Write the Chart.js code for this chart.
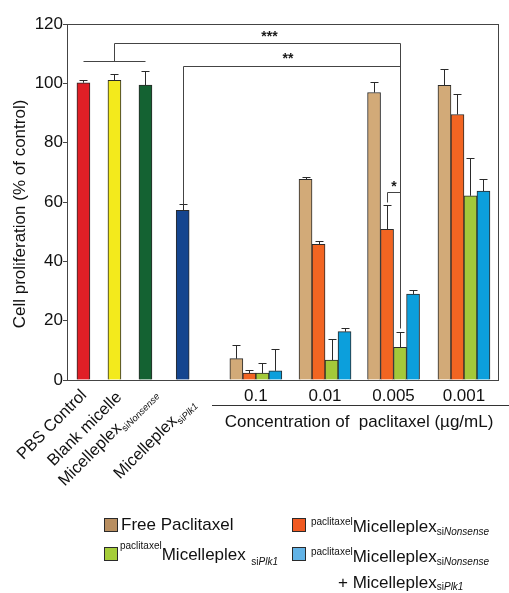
<!DOCTYPE html>
<html>
<head>
<meta charset="utf-8">
<script src="https://cdn.jsdelivr.net/npm/chart.js@4/dist/chart.umd.min.js"></script>
<style>
  html, body { margin: 0; padding: 0; background: #fff; }
  #wrap { width: 509px; height: 593px; }
</style>
</head>
<body>
<div id="wrap"><canvas id="chart" width="509" height="593"></canvas></div>
<script>
// values (% of control)
const singleLabels = ["PBS Control", "Blank micelle", "Micelleplex", "Micelleplex"];
const singleSubs = ["", "", "Nonsense", "Plk1"];
const singleValues = [100.2, 101.0, 99.4, 57.2];
const singleErrors = [0.8, 2.0, 4.8, 2.1];

const concLabels = ["0.1", "0.01", "0.005", "0.001"];
const freePtxValues = [7.2, 67.6, 96.9, 99.3];
const freePtxErrors = [4.6, 0.9, 3.7, 5.4];
const ptxNonsenseValues = [2.3, 45.7, 50.8, 89.5];
const ptxNonsenseErrors = [1.1, 1.2, 8.1, 6.9];
const ptxPlk1Values = [2.3, 6.7, 11.0, 62.1];
const ptxPlk1Errors = [3.4, 7.2, 5.2, 12.9];
const comboValues = [3.1, 16.3, 29.0, 63.7];
const comboErrors = [7.3, 1.3, 1.3, 4.2];

// significance bracket heights
const sigLevels = { controls: 107.4, triple: 113.7, double: 106.0, single: 63.3, singleFoot: 60.0 };

// slot positions on the hidden x axis
const singleSlots = [1, 2, 3, 4.2];
const concSlots = [6.56, 8.79, 11.0, 13.27];

const FONT = "'Liberation Sans', Arial, Helvetica, sans-serif";
const INK = "#2a2a2a";

function makeBar(label, values, errors, color, slots) {
  return {
    label,
    data: values.map((v, i) => ({ x: slots[i], y: v })),
    errors,
    backgroundColor: color,
    borderColor: INK,
    borderWidth: 1,
    barThickness: 13,
    skipNull: true,
  };
}

// draws text runs (normal / sup / sub) one after the other
function drawRuns(ctx, x, y, runs) {
  let cx = x;
  runs.forEach(r => {
    ctx.font = `${r.italic ? "italic " : ""}${r.size}px ${FONT}`;
    ctx.fillText(r.t, cx, y + (r.dy || 0));
    cx += ctx.measureText(r.t).width;
  });
  return cx;
}
function runsWidth(ctx, runs) {
  return runs.reduce((w, r) => {
    ctx.font = `${r.italic ? "italic " : ""}${r.size}px ${FONT}`;
    return w + ctx.measureText(r.t).width;
  }, 0);
}

const overlay = {
  id: "overlay",
  afterDatasetsDraw(chart) {
    const { ctx, chartArea: a, scales } = chart;
    const y = scales.y;
    const py = v => Math.round(y.getPixelForValue(v)) + 0.5;
    const line = pts => {
      ctx.beginPath();
      pts.forEach((p, i) => (i ? ctx.lineTo(p[0], p[1]) : ctx.moveTo(p[0], p[1])));
      ctx.stroke();
    };
    ctx.save();
    ctx.strokeStyle = INK;
    ctx.lineWidth = 1;

    // error bars (upper only)
    chart.data.datasets.forEach((ds, di) => {
      chart.getDatasetMeta(di).data.forEach((el, i) => {
        const top = py(ds.data[i].y + ds.errors[i]);
        const x = Math.round(el.x) + 0.5;
        line([[x, el.y], [x, top]]);
        line([[x - 4, top], [x + 4, top]]);
      });
    });

    // frame
    ctx.strokeStyle = "#444";
    ctx.strokeRect(Math.round(a.left) + 0.5, Math.round(a.top) + 0.5, Math.round(a.width) - 1, Math.round(a.height));

    // significance brackets
    const S = chart.getDatasetMeta(0).data;
    const O = chart.getDatasetMeta(2).data;
    const G = chart.getDatasetMeta(3).data;
    const gx = Math.round(G[2].x) + 0.5;
    const sx = i => Math.round(S[i].x) + 0.5;
    line([[sx(0), py(sigLevels.controls)], [sx(2), py(sigLevels.controls)]]);
    line([[sx(1), py(sigLevels.controls)], [sx(1), py(sigLevels.triple)], [gx, py(sigLevels.triple)],
          [gx, py(ptxPlk1Values[2] + ptxPlk1Errors[2] + 1.3)]]);
    line([[sx(3), py(singleValues[3] + singleErrors[3])], [sx(3), py(sigLevels.double)], [gx, py(sigLevels.double)]]);
    const ox = Math.round(O[2].x) + 0.5;
    line([[ox, py(sigLevels.singleFoot)], [ox, py(sigLevels.single)], [gx, py(sigLevels.single)]]);

    ctx.fillStyle = "#1a1a1a";
    ctx.textAlign = "center";
    ctx.textBaseline = "middle";
    ctx.font = `bold 14px ${FONT}`;
    ctx.fillText("***", (sx(1) + gx) / 2 + 12, py(sigLevels.triple) - 6);
    ctx.fillText("**", (sx(3) + gx) / 2 - 4, py(sigLevels.double) - 7);
    ctx.fillText("*", (ox + gx) / 2, py(sigLevels.single) - 5);
    ctx.restore();
  },
  afterDraw(chart) {
    const { ctx, scales } = chart;
    ctx.save();
    ctx.fillStyle = "#111";
    ctx.textBaseline = "alphabetic";

    // y title
    ctx.save();
    ctx.translate(25, 214);
    ctx.rotate(-Math.PI / 2);
    ctx.textAlign = "center";
    ctx.font = `17px ${FONT}`;
    ctx.fillText("Cell proliferation (% of control)", 0, 0);
    ctx.restore();

    // concentration labels
    ctx.textAlign = "center";
    ctx.font = `17px ${FONT}`;
    concLabels.forEach((t, i) => ctx.fillText(t, scales.x.getPixelForValue(concSlots[i]), 401));
    ctx.strokeStyle = "#333";
    ctx.lineWidth = 1;
    ctx.beginPath();
    ctx.moveTo(212, 405.5);
    ctx.lineTo(509, 405.5);
    ctx.stroke();
    ctx.fillText("Concentration of  paclitaxel (\u00b5g/mL)", 359, 427);

    // rotated control labels
    ctx.textAlign = "left";
    const shift = [[4, 396], [8, 398], [12, 394], [13, 404]];
    singleLabels.forEach((t, i) => {
      const runs = [{ t, size: 16.5 }];
      if (singleSubs[i]) {
        runs.push({ t: "si", size: 9.5, dy: 4 }, { t: singleSubs[i], size: 9.5, dy: 4, italic: true });
      }
      const w = runsWidth(ctx, runs);
      ctx.save();
      ctx.translate(scales.x.getPixelForValue(singleSlots[i]) + shift[i][0], shift[i][1]);
      ctx.rotate(-Math.PI / 4);
      drawRuns(ctx, -w, 0, runs);
      ctx.restore();
    });

    // legend
    const swatch = (x, yy, c) => {
      ctx.fillStyle = c;
      ctx.fillRect(x, yy, 14, 14);
      ctx.strokeStyle = INK;
      ctx.strokeRect(x + 0.5, yy + 0.5, 13, 13);
      ctx.fillStyle = "#111";
    };
    const ptx = dy => ({ t: "paclitaxel", size: 10, dy });
    const mic = { t: "Micelleplex", size: 17 };
    const si = (s, dy) => [{ t: "si", size: 10, dy }, { t: s, size: 10, dy, italic: true }];
    swatch(104, 518, "#b88e60");
    drawRuns(ctx, 121, 530, [{ t: "Free Paclitaxel", size: 17 }]);
    swatch(292, 518, "#f05a22");
    drawRuns(ctx, 311, 532, [ptx(-7), mic, ...si("Nonsense", 3)]);
    swatch(104, 547, "#a5cd39");
    drawRuns(ctx, 120, 560, [ptx(-11), mic, { t: "  ", size: 10 }, ...si("Plk1", 5)]);
    swatch(292, 547, "#62b3e6");
    drawRuns(ctx, 311, 562, [ptx(-7), mic, ...si("Nonsense", 3)]);
    drawRuns(ctx, 338, 588, [{ t: "+ ", size: 17 }, mic, ...si("Plk1", 2)]);
    ctx.restore();
  },
};

new Chart(document.getElementById("chart"), {
  type: "bar",
  data: {
    datasets: [
      makeBar("Controls", singleValues, singleErrors, ["#e01f26", "#f3ea1c", "#146232", "#15458f"], singleSlots),
      makeBar("Free Paclitaxel", freePtxValues, freePtxErrors, "#d2aa78", concSlots),
      makeBar("paclitaxel Micelleplex siNonsense", ptxNonsenseValues, ptxNonsenseErrors, "#f26522", concSlots),
      makeBar("paclitaxel Micelleplex siPlk1", ptxPlk1Values, ptxPlk1Errors, "#a3c93a", concSlots),
      makeBar("paclitaxel Micelleplex siNonsense + Micelleplex siPlk1", comboValues, comboErrors, "#0c9fdc", concSlots),
    ],
  },
  options: {
    responsive: false,
    animation: false,
    layout: { padding: { left: 0, top: 24, right: 10, bottom: 213 } },
    plugins: { legend: { display: false }, tooltip: { enabled: false } },
    scales: {
      x: { type: "linear", display: false, offset: false, min: 0.47, max: 14.4 },
      y: {
        min: 0,
        max: 120,
        ticks: { stepSize: 20, padding: 0, color: "#111", font: { family: FONT, size: 17 } },
        grid: { drawOnChartArea: false, tickLength: 4, color: "#444" },
        border: { color: "#444" },
        afterFit(s) { s.width = 67; },
      },
    },
  },
  plugins: [overlay],
});
</script>
</body>
</html>
